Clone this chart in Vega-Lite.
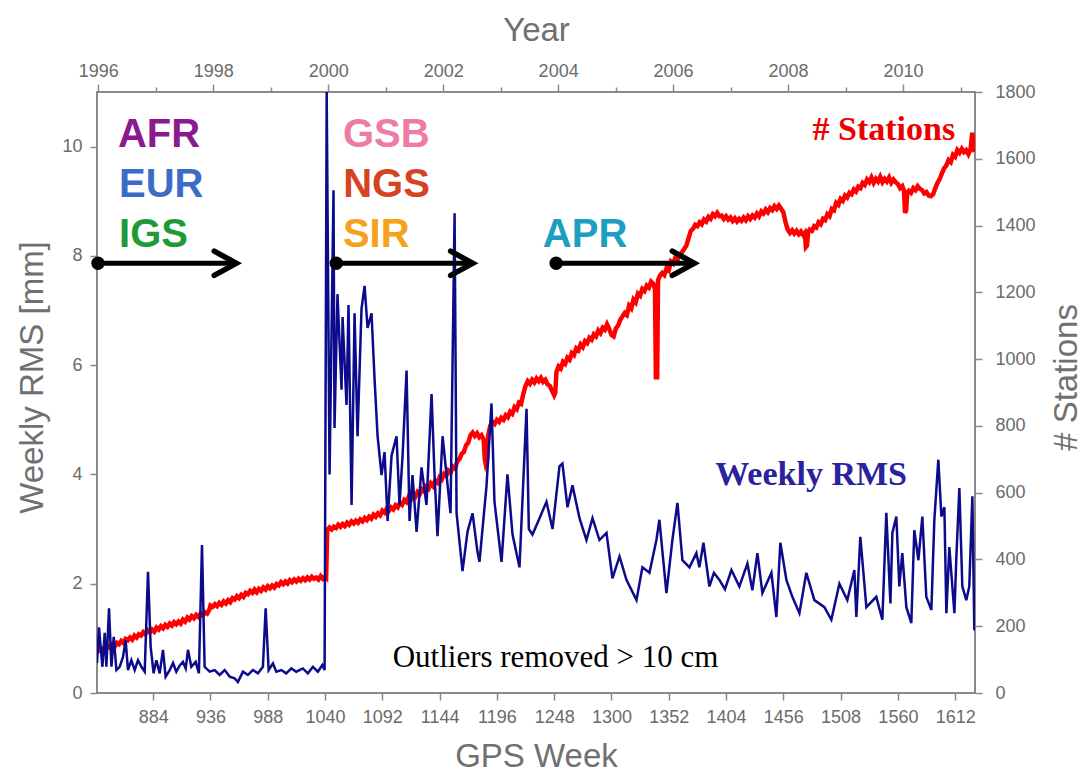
{
"$schema": "https://vega.github.io/schema/vega-lite/v6.json",
"width": 878, "height": 601,
"autosize": {"type": "none"},
"padding": {"left": 97, "top": 92, "right": 113, "bottom": 79},
"background": "white",
"config": {
  "view": {"stroke": "#8a8a8a", "strokeWidth": 2},
  "axis": {"labelFont": "Liberation Sans", "labelFontSize": 18, "labelColor": "#6b6b6b", "titleFont": "Liberation Sans", "titleFontSize": 33, "titleFontWeight": "normal", "titleColor": "#707070", "tickColor": "#8a8a8a", "tickWidth": 1.5, "domain": false, "grid": false}
},
"datasets": {
  "rms": [{"week":833,"rms":0.55},{"week":834.8,"rms":1.2},{"week":837.9,"rms":0.48},{"week":840,"rms":1.1},{"week":841.5,"rms":0.48},{"week":843.9,"rms":1.55},{"week":846.1,"rms":0.48},{"week":848.2,"rms":1.03},{"week":850.6,"rms":0.42},{"week":853.6,"rms":0.48},{"week":856.6,"rms":0.66},{"week":859,"rms":0.97},{"week":861.1,"rms":0.42},{"week":864.2,"rms":0.6},{"week":867.2,"rms":0.42},{"week":870.2,"rms":0.6},{"week":873.3,"rms":0.48},{"week":876.3,"rms":0.39},{"week":879.3,"rms":2.22},{"week":881.7,"rms":0.85},{"week":884.4,"rms":0.36},{"week":886.9,"rms":0.6},{"week":889.9,"rms":0.36},{"week":892.9,"rms":0.79},{"week":895.3,"rms":0.3},{"week":899,"rms":0.42},{"week":902,"rms":0.55},{"week":905,"rms":0.39},{"week":908,"rms":0.5},{"week":911,"rms":0.57},{"week":913.5,"rms":0.45},{"week":915.6,"rms":0.79},{"week":918.6,"rms":0.48},{"week":922.6,"rms":0.57},{"week":925.5,"rms":0.36},{"week":928.3,"rms":2.71},{"week":930.7,"rms":0.48},{"week":935.2,"rms":0.39},{"week":939.8,"rms":0.42},{"week":944.3,"rms":0.33},{"week":948.9,"rms":0.42},{"week":953.4,"rms":0.3},{"week":957.9,"rms":0.27},{"week":960.9,"rms":0.2},{"week":965.5,"rms":0.39},{"week":970,"rms":0.33},{"week":974.5,"rms":0.42},{"week":979.1,"rms":0.36},{"week":983.6,"rms":0.48},{"week":986.1,"rms":1.55},{"week":988.8,"rms":0.42},{"week":992.7,"rms":0.54},{"week":995.8,"rms":0.39},{"week":1000.3,"rms":0.42},{"week":1004.8,"rms":0.36},{"week":1009.4,"rms":0.45},{"week":1013.9,"rms":0.39},{"week":1019.9,"rms":0.45},{"week":1024.4,"rms":0.36},{"week":1029,"rms":0.48},{"week":1033.5,"rms":0.39},{"week":1037.5,"rms":0.51},{"week":1039.6,"rms":0.42},{"week":1041.5,"rms":11},{"week":1044.1,"rms":4.0},{"week":1047.7,"rms":9.2},{"week":1048.6,"rms":4.85},{"week":1051.3,"rms":7.3},{"week":1055,"rms":5.55},{"week":1055.9,"rms":6.88},{"week":1059.5,"rms":5.27},{"week":1061.3,"rms":7.1},{"week":1064.1,"rms":3.44},{"week":1066.8,"rms":6.95},{"week":1069.5,"rms":4.7},{"week":1073.1,"rms":7.03},{"week":1075.9,"rms":7.45},{"week":1078.6,"rms":6.68},{"week":1082.2,"rms":6.95},{"week":1084.9,"rms":5.77},{"week":1087.7,"rms":4.7},{"week":1091.3,"rms":3.99},{"week":1094,"rms":4.41},{"week":1096.8,"rms":3.15},{"week":1100.4,"rms":4.35},{"week":1104.9,"rms":4.7},{"week":1107.6,"rms":3.44},{"week":1110.4,"rms":4.35},{"week":1114,"rms":5.9},{"week":1116.7,"rms":3.15},{"week":1119.4,"rms":3.99},{"week":1123.1,"rms":2.95},{"week":1127.6,"rms":4.13},{"week":1132.1,"rms":3.44},{"week":1136.7,"rms":5.47},{"week":1139.4,"rms":3.99},{"week":1142.1,"rms":2.87},{"week":1146.7,"rms":4.7},{"week":1150.3,"rms":3.99},{"week":1153.9,"rms":3.29},{"week":1157.6,"rms":8.78},{"week":1159.4,"rms":3.29},{"week":1164.8,"rms":2.23},{"week":1169.3,"rms":2.95},{"week":1173.9,"rms":3.29},{"week":1178.4,"rms":2.58},{"week":1180.2,"rms":2.4},{"week":1186.6,"rms":3.8},{"week":1191.1,"rms":5.3},{"week":1193.8,"rms":3.5},{"week":1200.2,"rms":2.4},{"week":1205.6,"rms":4.0},{"week":1210.2,"rms":2.9},{"week":1216.5,"rms":2.3},{"week":1222.9,"rms":5.2},{"week":1225,"rms":3.0},{"week":1228.3,"rms":2.9},{"week":1234.7,"rms":3.2},{"week":1241,"rms":3.5},{"week":1246.5,"rms":3.0},{"week":1252.8,"rms":4.15},{"week":1255.5,"rms":4.2},{"week":1260.1,"rms":3.4},{"week":1264.6,"rms":3.8},{"week":1271,"rms":3.2},{"week":1277.3,"rms":2.8},{"week":1282.8,"rms":3.2},{"week":1289.1,"rms":2.8},{"week":1295.5,"rms":2.93},{"week":1300.9,"rms":2.1},{"week":1307.3,"rms":2.5},{"week":1313.6,"rms":2.07},{"week":1322.7,"rms":1.7},{"week":1328.1,"rms":2.3},{"week":1334.5,"rms":2.2},{"week":1340.8,"rms":2.8},{"week":1343.5,"rms":3.17},{"week":1349.9,"rms":1.83},{"week":1355.3,"rms":2.8},{"week":1359.9,"rms":3.48},{"week":1364.4,"rms":2.43},{"week":1370.8,"rms":2.3},{"week":1377.1,"rms":2.56},{"week":1379.8,"rms":2.3},{"week":1383.5,"rms":2.75},{"week":1388.9,"rms":1.95},{"week":1393,"rms":2.2},{"week":1398,"rms":2.07},{"week":1403,"rms":1.9},{"week":1408.9,"rms":2.25},{"week":1416.1,"rms":1.95},{"week":1423.4,"rms":2.37},{"week":1427.9,"rms":1.88},{"week":1432.5,"rms":2.56},{"week":1437,"rms":1.83},{"week":1445.2,"rms":2.2},{"week":1449.7,"rms":1.39},{"week":1453.3,"rms":2.75},{"week":1458.8,"rms":2.07},{"week":1464.2,"rms":1.76},{"week":1470.6,"rms":1.46},{"week":1476.9,"rms":2.2},{"week":1484.2,"rms":1.7},{"week":1493.3,"rms":1.57},{"week":1499.6,"rms":1.34},{"week":1506.9,"rms":2.0},{"week":1514.1,"rms":1.7},{"week":1520.5,"rms":2.25},{"week":1522.3,"rms":1.39},{"week":1525.9,"rms":2.86},{"week":1531.4,"rms":1.57},{"week":1540.4,"rms":1.76},{"week":1545.9,"rms":1.34},{"week":1549.5,"rms":3.3},{"week":1553.2,"rms":1.64},{"week":1555,"rms":2.93},{"week":1558.6,"rms":3.23},{"week":1561.3,"rms":1.95},{"week":1564,"rms":2.56},{"week":1567.7,"rms":1.57},{"week":1572.2,"rms":1.28},{"week":1574.9,"rms":2.98},{"week":1578.6,"rms":2.43},{"week":1582.2,"rms":3.23},{"week":1585.8,"rms":1.76},{"week":1590.4,"rms":1.52},{"week":1593.1,"rms":3.17},{"week":1596.7,"rms":4.27},{"week":1599.5,"rms":3.23},{"week":1602.2,"rms":3.4},{"week":1604,"rms":1.46},{"week":1606.7,"rms":2.67},{"week":1611.3,"rms":1.46},{"week":1613.1,"rms":2.5},{"week":1615.8,"rms":3.75},{"week":1618.5,"rms":1.95},{"week":1622.1,"rms":1.7},{"week":1624.8,"rms":1.95},{"week":1627.6,"rms":3.6},{"week":1629.4,"rms":1.15}],
  "stations": [{"week":833,"n":124},{"week":835,"n":132},{"week":837,"n":126},{"week":839,"n":134},{"week":841,"n":128},{"week":843,"n":142},{"week":845,"n":136},{"week":847,"n":146},{"week":849,"n":138},{"week":851,"n":150},{"week":853,"n":146},{"week":855,"n":156},{"week":857,"n":150},{"week":859,"n":162},{"week":861,"n":158},{"week":863,"n":166},{"week":865,"n":160},{"week":867,"n":172},{"week":869,"n":166},{"week":871,"n":176},{"week":873,"n":172},{"week":875,"n":182},{"week":877,"n":176},{"week":879,"n":188},{"week":881,"n":182},{"week":883,"n":190},{"week":885,"n":184},{"week":887,"n":196},{"week":889,"n":190},{"week":891,"n":200},{"week":893,"n":194},{"week":895,"n":204},{"week":897,"n":198},{"week":899,"n":208},{"week":901,"n":202},{"week":903,"n":212},{"week":905,"n":206},{"week":907,"n":214},{"week":909,"n":208},{"week":911,"n":220},{"week":913,"n":214},{"week":915,"n":226},{"week":917,"n":220},{"week":919,"n":230},{"week":921,"n":224},{"week":923,"n":234},{"week":925,"n":228},{"week":927,"n":238},{"week":929,"n":232},{"week":931,"n":242},{"week":933,"n":238},{"week":935,"n":250},{"week":936,"n":262},{"week":938,"n":258},{"week":940,"n":266},{"week":942,"n":260},{"week":944,"n":270},{"week":946,"n":264},{"week":948,"n":274},{"week":950,"n":268},{"week":952,"n":278},{"week":954,"n":272},{"week":956,"n":284},{"week":958,"n":280},{"week":960,"n":290},{"week":962,"n":284},{"week":964,"n":294},{"week":966,"n":288},{"week":968,"n":300},{"week":970,"n":296},{"week":972,"n":306},{"week":974,"n":300},{"week":976,"n":310},{"week":978,"n":302},{"week":980,"n":312},{"week":982,"n":306},{"week":984,"n":316},{"week":986,"n":310},{"week":988,"n":320},{"week":990,"n":314},{"week":992,"n":322},{"week":994,"n":316},{"week":996,"n":326},{"week":998,"n":322},{"week":1000,"n":332},{"week":1002,"n":326},{"week":1004,"n":334},{"week":1006,"n":328},{"week":1008,"n":338},{"week":1010,"n":332},{"week":1012,"n":340},{"week":1014,"n":334},{"week":1016,"n":342},{"week":1018,"n":336},{"week":1020,"n":344},{"week":1022,"n":338},{"week":1024,"n":346},{"week":1026,"n":340},{"week":1028,"n":348},{"week":1030,"n":342},{"week":1032,"n":346},{"week":1034,"n":340},{"week":1036,"n":350},{"week":1038,"n":342},{"week":1040,"n":348},{"week":1041,"n":345},{"week":1042,"n":488},{"week":1044,"n":496},{"week":1046,"n":490},{"week":1048,"n":498},{"week":1050,"n":494},{"week":1052,"n":504},{"week":1054,"n":498},{"week":1056,"n":506},{"week":1058,"n":500},{"week":1060,"n":510},{"week":1062,"n":504},{"week":1064,"n":514},{"week":1066,"n":508},{"week":1068,"n":516},{"week":1070,"n":510},{"week":1072,"n":520},{"week":1074,"n":514},{"week":1076,"n":524},{"week":1078,"n":518},{"week":1080,"n":528},{"week":1082,"n":522},{"week":1084,"n":534},{"week":1086,"n":528},{"week":1088,"n":538},{"week":1090,"n":532},{"week":1092,"n":546},{"week":1094,"n":540},{"week":1096,"n":552},{"week":1098,"n":546},{"week":1100,"n":556},{"week":1102,"n":550},{"week":1104,"n":562},{"week":1106,"n":556},{"week":1108,"n":570},{"week":1110,"n":564},{"week":1112,"n":578},{"week":1114,"n":572},{"week":1116,"n":588},{"week":1118,"n":580},{"week":1120,"n":594},{"week":1122,"n":588},{"week":1124,"n":602},{"week":1126,"n":596},{"week":1128,"n":610},{"week":1130,"n":604},{"week":1132,"n":618},{"week":1134,"n":612},{"week":1136,"n":628},{"week":1138,"n":620},{"week":1140,"n":636},{"week":1142,"n":630},{"week":1144,"n":646},{"week":1146,"n":640},{"week":1148,"n":656},{"week":1150,"n":650},{"week":1152,"n":666},{"week":1154,"n":660},{"week":1156,"n":678},{"week":1158,"n":672},{"week":1160,"n":694},{"week":1162,"n":700},{"week":1164,"n":716},{"week":1166,"n":722},{"week":1168,"n":742},{"week":1170,"n":750},{"week":1172,"n":772},{"week":1174,"n":780},{"week":1176,"n":770},{"week":1178,"n":778},{"week":1180,"n":766},{"week":1182,"n":772},{"week":1184,"n":758},{"week":1185,"n":700},{"week":1186,"n":683},{"week":1187,"n":690},{"week":1188,"n":770},{"week":1190,"n":800},{"week":1192,"n":812},{"week":1194,"n":806},{"week":1196,"n":818},{"week":1198,"n":812},{"week":1200,"n":824},{"week":1202,"n":818},{"week":1204,"n":832},{"week":1206,"n":826},{"week":1208,"n":842},{"week":1210,"n":836},{"week":1212,"n":856},{"week":1214,"n":850},{"week":1216,"n":870},{"week":1218,"n":866},{"week":1220,"n":896},{"week":1222,"n":920},{"week":1224,"n":934},{"week":1226,"n":926},{"week":1228,"n":938},{"week":1230,"n":930},{"week":1232,"n":942},{"week":1234,"n":934},{"week":1236,"n":944},{"week":1238,"n":932},{"week":1240,"n":938},{"week":1242,"n":924},{"week":1244,"n":920},{"week":1246,"n":906},{"week":1248,"n":892},{"week":1249,"n":900},{"week":1250,"n":960},{"week":1252,"n":978},{"week":1254,"n":972},{"week":1256,"n":992},{"week":1258,"n":986},{"week":1260,"n":1004},{"week":1262,"n":998},{"week":1264,"n":1018},{"week":1266,"n":1012},{"week":1268,"n":1032},{"week":1270,"n":1026},{"week":1272,"n":1044},{"week":1274,"n":1036},{"week":1276,"n":1054},{"week":1278,"n":1048},{"week":1280,"n":1064},{"week":1282,"n":1058},{"week":1284,"n":1074},{"week":1286,"n":1068},{"week":1288,"n":1086},{"week":1290,"n":1078},{"week":1292,"n":1094},{"week":1294,"n":1088},{"week":1296,"n":1104},{"week":1298,"n":1090},{"week":1300,"n":1072},{"week":1302,"n":1068},{"week":1304,"n":1092},{"week":1306,"n":1100},{"week":1308,"n":1118},{"week":1310,"n":1128},{"week":1312,"n":1138},{"week":1314,"n":1132},{"week":1316,"n":1160},{"week":1318,"n":1152},{"week":1320,"n":1178},{"week":1322,"n":1170},{"week":1324,"n":1196},{"week":1326,"n":1190},{"week":1328,"n":1210},{"week":1330,"n":1204},{"week":1332,"n":1220},{"week":1334,"n":1214},{"week":1336,"n":1232},{"week":1338,"n":1226},{"week":1339.5,"n":1210},{"week":1340.3,"n":946},{"week":1341.5,"n":946},{"week":1342.3,"n":1236},{"week":1344,"n":1250},{"week":1346,"n":1258},{"week":1348,"n":1252},{"week":1350,"n":1272},{"week":1352,"n":1266},{"week":1354,"n":1292},{"week":1356,"n":1286},{"week":1358,"n":1304},{"week":1360,"n":1298},{"week":1362,"n":1312},{"week":1364,"n":1320},{"week":1366,"n":1330},{"week":1368,"n":1340},{"week":1370,"n":1362},{"week":1372,"n":1384},{"week":1374,"n":1390},{"week":1376,"n":1402},{"week":1378,"n":1398},{"week":1380,"n":1410},{"week":1382,"n":1404},{"week":1384,"n":1418},{"week":1386,"n":1412},{"week":1388,"n":1426},{"week":1390,"n":1420},{"week":1392,"n":1434},{"week":1394,"n":1428},{"week":1396,"n":1438},{"week":1398,"n":1428},{"week":1400,"n":1430},{"week":1402,"n":1420},{"week":1404,"n":1428},{"week":1406,"n":1418},{"week":1408,"n":1424},{"week":1410,"n":1414},{"week":1412,"n":1422},{"week":1414,"n":1412},{"week":1416,"n":1420},{"week":1418,"n":1414},{"week":1420,"n":1424},{"week":1422,"n":1416},{"week":1424,"n":1428},{"week":1426,"n":1420},{"week":1428,"n":1430},{"week":1430,"n":1424},{"week":1432,"n":1436},{"week":1434,"n":1428},{"week":1436,"n":1442},{"week":1438,"n":1436},{"week":1440,"n":1448},{"week":1442,"n":1440},{"week":1444,"n":1452},{"week":1446,"n":1446},{"week":1448,"n":1458},{"week":1450,"n":1450},{"week":1452,"n":1460},{"week":1454,"n":1450},{"week":1456,"n":1440},{"week":1458,"n":1410},{"week":1460,"n":1388},{"week":1462,"n":1378},{"week":1464,"n":1386},{"week":1466,"n":1376},{"week":1468,"n":1384},{"week":1470,"n":1374},{"week":1472,"n":1382},{"week":1474,"n":1372},{"week":1475.5,"n":1378},{"week":1476.5,"n":1336},{"week":1477.5,"n":1340},{"week":1478.5,"n":1380},{"week":1480,"n":1388},{"week":1482,"n":1384},{"week":1484,"n":1398},{"week":1486,"n":1394},{"week":1488,"n":1410},{"week":1490,"n":1404},{"week":1492,"n":1420},{"week":1494,"n":1416},{"week":1496,"n":1434},{"week":1498,"n":1428},{"week":1500,"n":1450},{"week":1502,"n":1446},{"week":1504,"n":1468},{"week":1506,"n":1462},{"week":1508,"n":1480},{"week":1510,"n":1474},{"week":1512,"n":1490},{"week":1514,"n":1484},{"week":1516,"n":1498},{"week":1518,"n":1494},{"week":1520,"n":1508},{"week":1522,"n":1502},{"week":1524,"n":1516},{"week":1526,"n":1512},{"week":1528,"n":1528},{"week":1530,"n":1522},{"week":1532,"n":1538},{"week":1534,"n":1530},{"week":1536,"n":1544},{"week":1538,"n":1528},{"week":1540,"n":1540},{"week":1542,"n":1532},{"week":1544,"n":1546},{"week":1546,"n":1530},{"week":1548,"n":1540},{"week":1550,"n":1532},{"week":1552,"n":1544},{"week":1554,"n":1528},{"week":1556,"n":1538},{"week":1558,"n":1530},{"week":1560,"n":1524},{"week":1562,"n":1512},{"week":1564,"n":1518},{"week":1565.5,"n":1505},{"week":1566.5,"n":1438},{"week":1567.5,"n":1445},{"week":1568.5,"n":1498},{"week":1570,"n":1504},{"week":1572,"n":1498},{"week":1574,"n":1512},{"week":1576,"n":1506},{"week":1578,"n":1518},{"week":1580,"n":1510},{"week":1582,"n":1506},{"week":1584,"n":1496},{"week":1586,"n":1500},{"week":1588,"n":1490},{"week":1590,"n":1488},{"week":1592,"n":1494},{"week":1594,"n":1512},{"week":1596,"n":1528},{"week":1598,"n":1540},{"week":1600,"n":1556},{"week":1602,"n":1572},{"week":1604,"n":1580},{"week":1606,"n":1596},{"week":1608,"n":1590},{"week":1610,"n":1612},{"week":1612,"n":1606},{"week":1614,"n":1626},{"week":1616,"n":1618},{"week":1618,"n":1630},{"week":1620,"n":1620},{"week":1622,"n":1626},{"week":1624,"n":1614},{"week":1626,"n":1630},{"week":1627.5,"n":1678},{"week":1628.5,"n":1640},{"week":1629.5,"n":1620}],
  "years": [{"year": 1996}, {"year": 2011}],
  "regions": [{"label":"AFR","week":852,"rms":10.0},{"label":"EUR","week":853,"rms":9.087},{"label":"IGS","week":853,"rms":8.172},{"label":"GSB","week":1056.2,"rms":10.0},{"label":"NGS","week":1056.5,"rms":9.087},{"label":"SIR","week":1056.2,"rms":8.172},{"label":"APR","week":1237.7,"rms":8.172}],
  "arrows": [{"start":833.9,"end":959.5,"rms":7.865},{"start":1050.2,"end":1174.1,"rms":7.865},{"start":1249.8,"end":1375.3,"rms":7.865}],
  "noteStations": [{"text":"# Stations","week":1547.2,"rms":10.13}],
  "noteRms": [{"text":"Weekly RMS","week":1481.2,"rms":3.807}],
  "noteOutliers": [{"text":"Outliers removed > 10 cm","week":1249.2,"rms":0.476}]
},
"layer": [
  {
    "data": {"name": "stations"},
    "mark": {"type": "line", "color": "#ff0000", "strokeWidth": 4.5, "clip": true},
    "encoding": {
      "x": {"field": "week", "type": "quantitative", "scale": {"domain": [833, 1630], "nice": false, "zero": false}, "axis": null},
      "y": {"field": "n", "type": "quantitative", "scale": {"domain": [0, 1800], "nice": false}, "axis": {"orient": "right", "title": "# Stations", "values": [0,200,400,600,800,1000,1200,1400,1600,1800], "format": "d", "tickSize": 7, "labelPadding": 13, "titleAngle": 270, "titleBaseline": "top", "titlePadding": 15, "titleY": 285}}
    }
  },
  {
    "data": {"name": "rms"},
    "mark": {"type": "line", "color": "#0b0b8c", "strokeWidth": 2.5, "clip": true},
    "encoding": {
      "x": {"field": "week", "type": "quantitative", "scale": {"domain": [833, 1630], "nice": false, "zero": false}, "axis": {"orient": "bottom", "title": "GPS Week", "values": [884,936,988,1040,1092,1144,1196,1248,1300,1352,1404,1456,1508,1560,1612], "format": "d", "tickSize": 7, "labelPadding": 8, "titlePadding": 14}},
      "y": {"field": "rms", "type": "quantitative", "scale": {"domain": [0, 11], "nice": false}, "axis": {"orient": "left", "title": "Weekly RMS [mm]", "values": [0,2,4,6,8,10], "format": "d", "tickSize": 7, "labelPadding": 8, "titlePadding": 12, "titleY": 285}}
    }
  },
  {
    "data": {"name": "years"},
    "mark": {"type": "point", "opacity": 0},
    "encoding": {
      "x": {"field": "year", "type": "quantitative", "scale": {"domain": [1995.978, 2011.252], "nice": false, "zero": false}, "axis": {"orient": "top", "title": "Year", "values": [1996,1997,1998,1999,2000,2001,2002,2003,2004,2005,2006,2007,2008,2009,2010,2011], "format": "d", "labelExpr": "datum.value % 2 === 0 ? datum.label : ''", "tickSize": {"condition": {"test": "datum.value % 2 === 0", "value": 8}, "value": 5}, "labelPadding": 4, "titlePadding": 15}}
    }
  },
  {
    "data": {"name": "arrows"},
    "mark": {"type": "rule", "color": "black", "strokeWidth": 5},
    "encoding": {
      "x": {"field": "start", "type": "quantitative", "scale": {"domain": [833, 1630], "nice": false, "zero": false}, "axis": null},
      "x2": {"field": "end"},
      "y": {"field": "rms", "type": "quantitative", "scale": {"domain": [0, 11], "nice": false}, "axis": null}
    }
  },
  {
    "data": {"name": "arrows"},
    "mark": {"type": "point", "shape": "circle", "filled": true, "color": "black", "size": 180, "opacity": 1},
    "encoding": {
      "x": {"field": "start", "type": "quantitative", "scale": {"domain": [833, 1630], "nice": false, "zero": false}, "axis": null},
      "y": {"field": "rms", "type": "quantitative", "scale": {"domain": [0, 11], "nice": false}, "axis": null}
    }
  },
  {
    "data": {"name": "arrows"},
    "mark": {"type": "point", "shape": "M-1,-0.55L0,0L-1,0.55", "filled": false, "stroke": "black", "strokeWidth": 5.5, "size": 1960, "opacity": 1, "strokeCap": "round", "strokeJoin": "miter"},
    "encoding": {
      "x": {"field": "end", "type": "quantitative", "scale": {"domain": [833, 1630], "nice": false, "zero": false}, "axis": null},
      "y": {"field": "rms", "type": "quantitative", "scale": {"domain": [0, 11], "nice": false}, "axis": null}
    }
  },
  {
    "data": {"name": "regions"},
    "mark": {"type": "text", "align": "left", "baseline": "alphabetic", "font": "Liberation Sans", "fontWeight": "bold", "fontSize": 40},
    "encoding": {
      "x": {"field": "week", "type": "quantitative", "scale": {"domain": [833, 1630], "nice": false, "zero": false}, "axis": null},
      "y": {"field": "rms", "type": "quantitative", "scale": {"domain": [0, 11], "nice": false}, "axis": null},
      "text": {"field": "label"},
      "color": {"field": "label", "type": "nominal", "scale": {"domain": ["AFR","EUR","IGS","GSB","NGS","SIR","APR"], "range": ["#8b1a8e","#3b6cc8","#1f9a35","#ee7aa5","#d6441f","#f5a11c","#1d9fc2"]}, "legend": null}
    }
  },
  {
    "data": {"name": "noteStations"},
    "mark": {"type": "text", "align": "center", "baseline": "alphabetic", "font": "Liberation Serif", "fontWeight": "bold", "fontSize": 34, "color": "#ee0000"},
    "encoding": {
      "x": {"field": "week", "type": "quantitative", "scale": {"domain": [833, 1630], "nice": false, "zero": false}, "axis": null},
      "y": {"field": "rms", "type": "quantitative", "scale": {"domain": [0, 11], "nice": false}, "axis": null},
      "text": {"field": "text"}
    }
  },
  {
    "data": {"name": "noteRms"},
    "mark": {"type": "text", "align": "center", "baseline": "alphabetic", "font": "Liberation Serif", "fontWeight": "bold", "fontSize": 34, "color": "#2a239b"},
    "encoding": {
      "x": {"field": "week", "type": "quantitative", "scale": {"domain": [833, 1630], "nice": false, "zero": false}, "axis": null},
      "y": {"field": "rms", "type": "quantitative", "scale": {"domain": [0, 11], "nice": false}, "axis": null},
      "text": {"field": "text"}
    }
  },
  {
    "data": {"name": "noteOutliers"},
    "mark": {"type": "text", "align": "center", "baseline": "alphabetic", "font": "Liberation Serif", "fontSize": 31, "color": "black"},
    "encoding": {
      "x": {"field": "week", "type": "quantitative", "scale": {"domain": [833, 1630], "nice": false, "zero": false}, "axis": null},
      "y": {"field": "rms", "type": "quantitative", "scale": {"domain": [0, 11], "nice": false}, "axis": null},
      "text": {"field": "text"}
    }
  }
],
"resolve": {"scale": {"x": "independent", "y": "independent"}}
}
